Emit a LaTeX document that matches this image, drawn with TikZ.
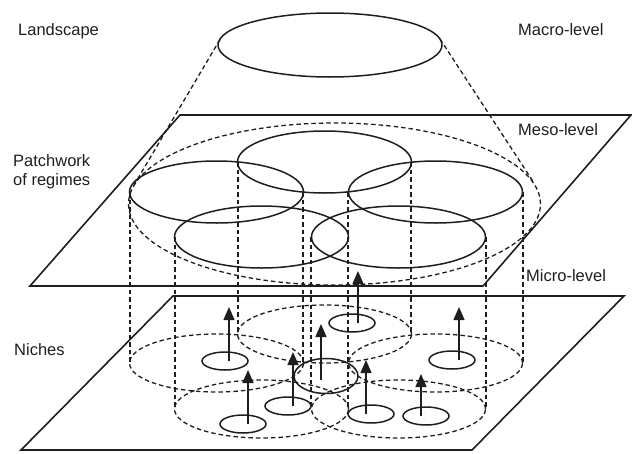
\documentclass[tikz,border=0pt]{standalone}
\usepackage{fontspec}
\setmainfont{Liberation Sans}
\usetikzlibrary{arrows.meta,shapes.geometric}
\definecolor{inkgray}{RGB}{30,30,30}

\begin{document}
\begin{tikzpicture}[x=1pt,y=-1pt,
  lvl/.style={font=\fontsize{16.5}{19}\selectfont,text=inkgray,inner sep=0pt,anchor=base west},
  plane/.style={draw=inkgray,line width=1.6pt},
  regime/.style={draw=inkgray,line width=1.5pt},
  proj/.style={draw=inkgray,line width=1.3pt,dash pattern=on 4.5pt off 3pt},
  niche/.style={ellipse,draw=inkgray,line width=1.5pt,minimum width=46pt,minimum height=18pt,inner sep=0pt},
  arr/.style={-{Triangle[length=13pt,width=11pt]},draw=inkgray,fill=inkgray,line width=1.4pt}
]
\useasboundingbox (0,0) rectangle (632,453);
\node[lvl] (landscape) at (18,35) {Landscape};
\node[lvl] (macro) at (518,35) {Macro-level};
\node[lvl] (meso) at (518,135) {Meso-level};
\node[lvl,anchor=north west,align=left] (patch) at (13,154) {Patchwork\\of regimes};
\node[lvl] (micro) at (526,281) {Micro-level};
\node[lvl] (niches) at (14,355) {Niches};
\draw[plane] (180,115) -- (631,115) -- (483,286) -- (30,286) -- cycle;
\draw[plane] (173,296) -- (624,296) -- (472,450) -- (21,450) -- cycle;
\draw[regime] (330,45) ellipse [x radius=112pt,y radius=32pt];
\draw[proj] (220,39.5) -- (134,185);
\draw[proj] (440,39) -- (534,183);
\draw[proj] (334.5,204) ellipse [x radius=206pt,y radius=81pt];
\draw[regime] (324.5,162) ellipse [x radius=87pt,y radius=31pt];
\draw[regime] (216.5,192) ellipse [x radius=87pt,y radius=31pt];
\draw[regime] (435.5,192) ellipse [x radius=87pt,y radius=31pt];
\draw[regime] (261.5,237) ellipse [x radius=87pt,y radius=31pt];
\draw[regime] (398.5,237) ellipse [x radius=87pt,y radius=31pt];
\draw[proj] (130,192) -- (130,363);
\draw[proj] (303,192) -- (303,363);
\draw[proj] (238,162) -- (238,334);
\draw[proj] (411,162) -- (411,334);
\draw[proj] (348,192) -- (348,363);
\draw[proj] (523,192) -- (523,363);
\draw[proj] (175,237) -- (175,409);
\draw[proj] (348,237) -- (348,409);
\draw[proj] (311,237) -- (311,409);
\draw[proj] (486,237) -- (486,409);
\draw[proj] (216.5,363) ellipse [x radius=87pt,y radius=29pt];
\draw[proj] (324.5,334) ellipse [x radius=87pt,y radius=29pt];
\draw[proj] (435.5,363) ellipse [x radius=87pt,y radius=29pt];
\draw[proj] (261.5,409) ellipse [x radius=87pt,y radius=29pt];
\draw[proj] (398.5,409) ellipse [x radius=87pt,y radius=29pt];
\node[niche] (na) at (225,361) {};
\node[niche] (nb) at (243,424) {};
\node[niche] (nc) at (288,406) {};
\node[niche,minimum width=64pt,minimum height=35pt] (nd) at (326,376) {};
\node[niche] (ne) at (352,323) {};
\node[niche] (nf) at (371,414) {};
\node[niche] (ng) at (452,360) {};
\node[niche] (nh) at (426,416) {};
\draw[arr] ([xshift=4pt]na.center) -- ++(0,-54);
\draw[arr] ([xshift=5pt]nb.center) -- ++(0,-54);
\draw[arr] ([xshift=5pt]nc.center) -- ++(0,-54);
\draw[arr] ([xshift=-5pt,yshift=-4pt]nd.center) -- ++(0,-56);
\draw[arr] ([xshift=6pt]ne.center) -- ++(0,-52);
\draw[arr] ([xshift=-5pt]nf.center) -- ++(0,-54);
\draw[arr] ([xshift=7pt]ng.center) -- ++(0,-53);
\draw[arr] ([xshift=-5pt]nh.center) -- ++(0,-42);
\end{tikzpicture}
\end{document}
